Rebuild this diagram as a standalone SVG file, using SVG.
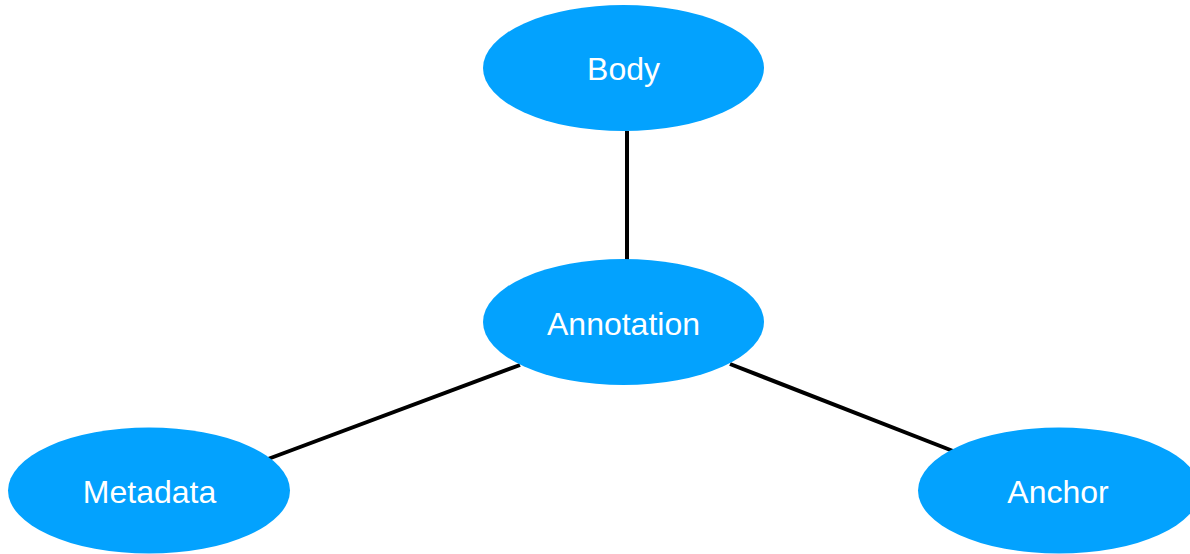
<svg xmlns="http://www.w3.org/2000/svg" width="1190" height="554" viewBox="0 0 1190 554">
<style>
.node ellipse{fill:#03a2fe;}
.node text{fill:#ffffff;font-family:"Liberation Sans",Arial,sans-serif;font-size:32px;text-anchor:middle;}
.edge{stroke:#000;stroke-width:4;fill:none;}
</style>
<rect width="1190" height="554" fill="#fff"/>
<g id="connectors">
<line class="edge" x1="627" y1="131" x2="627" y2="260"/>
<line class="edge" x1="520" y1="365" x2="268" y2="459"/>
<line class="edge" x1="730" y1="364" x2="953" y2="451"/>
</g>
<g id="body" class="node">
<ellipse cx="623.5" cy="68" rx="140.5" ry="63"/>
<text x="623.5" y="80">Body</text>
</g>
<g id="annotation" class="node">
<ellipse cx="623.5" cy="322" rx="140.5" ry="63"/>
<text x="623.5" y="335">Annotation</text>
</g>
<g id="metadata" class="node">
<ellipse cx="149" cy="490.5" rx="141" ry="63"/>
<text x="149.5" y="503">Metadata</text>
</g>
<g id="anchor" class="node">
<ellipse cx="1059" cy="490.5" rx="141" ry="63"/>
<text x="1058" y="503">Anchor</text>
</g>
</svg>
